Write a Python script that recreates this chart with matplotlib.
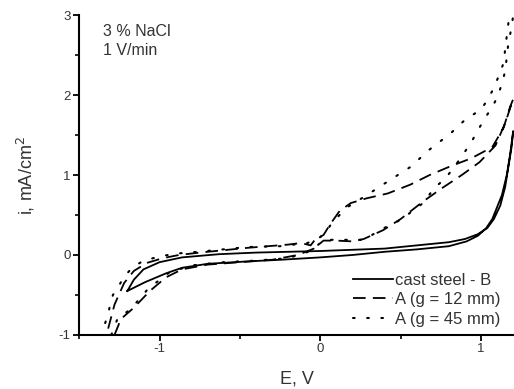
import matplotlib
matplotlib.use("Agg")
import matplotlib.pyplot as plt
from matplotlib.ticker import MultipleLocator

plt.rcParams['font.family'] = ['Liberation Sans', 'DejaVu Sans']
plt.rcParams['axes.unicode_minus'] = False

# cast steel - B : closed loop, anodic then cathodic branch
steel_E = [-1.20, -1.15, -1.09, -0.96, -0.86, -0.70, -0.45, -0.25, 0.00, 0.20,
           0.40, 0.60, 0.80, 0.91, 0.98, 1.03, 1.07, 1.10, 1.13, 1.16, 1.18,
           1.20, 1.19, 1.17, 1.15, 1.12, 1.08, 1.04, 0.98, 0.90, 0.80, 0.40,
           0.00, -0.40, -0.63, -0.86, -1.00, -1.10, -1.16, -1.20]
steel_i = [-0.45, -0.40, -0.34, -0.23, -0.16, -0.11, -0.08, -0.06, -0.03, 0.00,
           0.04, 0.07, 0.11, 0.17, 0.24, 0.33, 0.45, 0.60, 0.75, 1.00, 1.25,
           1.55, 1.35, 1.10, 0.85, 0.62, 0.45, 0.34, 0.26, 0.20, 0.16, 0.08,
           0.05, 0.03, 0.01, -0.03, -0.09, -0.18, -0.31, -0.45]

# A (g = 12 mm)
a12_E = [-1.28, -1.24, -1.16, -1.06, -0.96, -0.86, -0.70, -0.50, -0.30, -0.14,
         -0.04, 0.02, 0.10, 0.20, 0.27, 0.39, 0.50, 0.64, 0.76, 0.88, 0.99,
         1.09, 1.15, 1.20, 1.18, 1.14, 1.07, 0.94, 0.81, 0.68, 0.56, 0.42,
         0.29, 0.19, 0.12, 0.06, 0.02, -0.03, -0.06, -0.12, -0.20, -0.45,
         -0.75, -0.88, -0.98, -1.08, -1.16, -1.22, -1.28, -1.33]
a12_i = [-1.00, -0.80, -0.66, -0.45, -0.28, -0.18, -0.12, -0.09, -0.06, 0.00,
         0.08, 0.18, 0.18, 0.17, 0.20, 0.31, 0.45, 0.67, 0.84, 1.00, 1.16,
         1.37, 1.65, 1.95, 1.85, 1.59, 1.35, 1.21, 1.11, 1.00, 0.88, 0.77,
         0.71, 0.65, 0.55, 0.38, 0.25, 0.20, 0.12, 0.15, 0.13, 0.09,
         0.03, 0.00, -0.04, -0.10, -0.20, -0.35, -0.62, -1.00]

# A (g = 45 mm)
a45_E = [-1.30, -1.26, -1.18, -1.07, -0.94, -0.80, -0.60, -0.40, -0.20, -0.06,
         0.00, 0.05, 0.14, 0.27, 0.39, 0.50, 0.64, 0.71, 0.78, 0.88, 0.95,
         1.02, 1.07, 1.10, 1.13, 1.15, 1.17, 1.19, 1.20, 1.17, 1.16, 1.15,
         1.14, 1.11, 1.08, 1.04, 1.00, 0.90, 0.81, 0.68, 0.56, 0.42, 0.29,
         0.17, 0.08, 0.02, -0.02, -0.08, -0.25, -0.45, -0.76, -0.88, -0.98,
         -1.10, -1.17, -1.22, -1.26, -1.29, -1.32, -1.36]
a45_i = [-1.00, -0.79, -0.68, -0.42, -0.22, -0.13, -0.09, -0.07, -0.04, 0.05,
         0.15, 0.19, 0.19, 0.19, 0.33, 0.44, 0.65, 0.84, 0.96, 1.23, 1.45,
         1.70, 1.85, 1.97, 2.14, 2.30, 2.65, 2.85, 3.00, 2.90, 2.74, 2.57,
         2.40, 2.24, 2.09, 1.94, 1.82, 1.69, 1.52, 1.32, 1.10, 0.92, 0.75,
         0.60, 0.42, 0.25, 0.20, 0.15, 0.11, 0.10, 0.04, 0.02, -0.01,
         -0.07, -0.16, -0.27, -0.41, -0.50, -0.73, -1.00]

fig = plt.figure(figsize=(5.14, 3.89), dpi=100)
ax = fig.add_axes([0.154, 0.139, 0.846, 0.822])

ax.plot(steel_E, steel_i, color='black', lw=1.3, label='cast steel - B')
ax.plot(a12_E, a12_i, color='black', lw=1.3, dashes=(7, 4),
        label='A (g = 12 mm)')
ax.plot(a45_E, a45_i, color='black', lw=1.5, dashes=(0.8, 6),
        dash_capstyle='round', label='A (g = 45 mm)')

ax.set_xlim(-1.5, 1.205)
ax.set_ylim(-1, 3)
ax.xaxis.set_major_locator(MultipleLocator(1))
ax.xaxis.set_minor_locator(MultipleLocator(0.5))
ax.yaxis.set_major_locator(MultipleLocator(1))
ax.yaxis.set_minor_locator(MultipleLocator(0.5))

for s in ['top', 'right']:
    ax.spines[s].set_visible(False)
for s in ['left', 'bottom']:
    ax.spines[s].set_linewidth(1.5)
ax.tick_params(which='major', direction='out', length=4, width=1.3,
               labelsize=9.5, labelcolor='#333333', pad=2)
ax.tick_params(which='minor', direction='out', length=3, width=1.2)

ax.set_xlabel('E, V', fontsize=13, color='#333333', labelpad=11)
ax.set_ylabel('i, mA/cm$^2$', fontsize=13, color='#333333', labelpad=16)

ax.text(0.055, 0.934, '3 % NaCl', transform=ax.transAxes, fontsize=11.5,
        color='#333333')
ax.text(0.055, 0.874, '1 V/min', transform=ax.transAxes, fontsize=11.5,
        color='#333333')

leg = ax.legend(loc='lower right', bbox_to_anchor=(0.97, 0.025),
                frameon=False, fontsize=12, handlelength=2.4,
                handletextpad=0.15, labelspacing=0.28, borderpad=0,
                borderaxespad=0)
for t in leg.get_texts():
    t.set_color('#333333')

fig.savefig('out.png', dpi=100)
